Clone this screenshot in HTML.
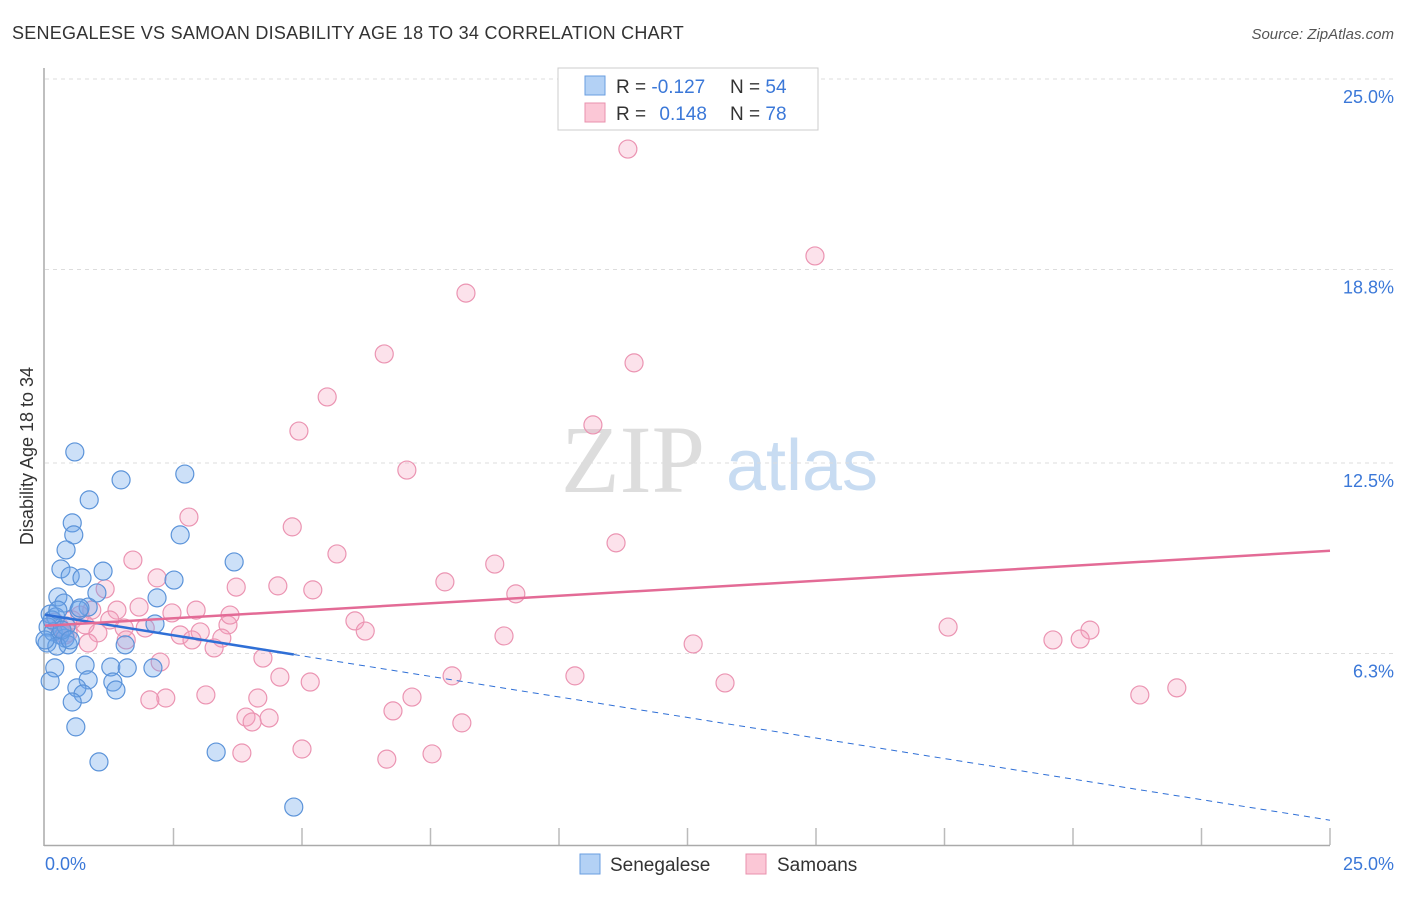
<!DOCTYPE html>
<html><head><meta charset="utf-8"><style>
body{margin:0;background:#fff;font-family:"Liberation Sans",sans-serif;}
</style></head><body>
<svg id="chart" width="1406" height="892" xmlns="http://www.w3.org/2000/svg">
<text x="12" y="39" font-size="18" fill="#333" letter-spacing="0.25">SENEGALESE VS SAMOAN DISABILITY AGE 18 TO 34 CORRELATION CHART</text>
<text x="1394" y="39" font-size="15" fill="#555" font-style="italic" text-anchor="end">Source: ZipAtlas.com</text>
<g>
<text x="633" y="492" font-size="96" font-family="Liberation Serif,serif" fill="#ddd" text-anchor="middle">ZIP</text>
<text x="802" y="490" font-size="72" fill="#c8dcf2" text-anchor="middle">atlas</text>
</g>
<g id="grid"></g>
<line x1="44" y1="68" x2="44" y2="846" stroke="#aaa" stroke-width="1.5"/>
<line x1="44" y1="845.5" x2="1330" y2="845.5" stroke="#aaa" stroke-width="1.5"/>
<text transform="translate(33,456) rotate(-90)" font-size="18" fill="#333" text-anchor="middle">Disability Age 18 to 34</text>
<text x="45" y="870" font-size="18" fill="#3b78d8">0.0%</text>
<text x="1394" y="870" font-size="18" fill="#3b78d8" text-anchor="end">25.0%</text>
<g id="marks"></g>
<g>
<rect x="558" y="68" width="260" height="62" fill="#fff" stroke="#ccc"/>
<rect x="585" y="76" width="20" height="19" fill="#b3d1f5" stroke="#6a9ee0"/>
<rect x="585" y="103" width="20" height="19" fill="#fbc7d6" stroke="#e891ad"/>
<text x="616" y="93" font-size="19" fill="#333">R = <tspan fill="#3b78d8">-0.127</tspan></text>
<text x="730" y="93" font-size="19" fill="#333">N = <tspan fill="#3b78d8">54</tspan></text>
<text x="616" y="120" font-size="19" fill="#333">R = <tspan fill="#3b78d8" dx="8">0.148</tspan></text>
<text x="730" y="120" font-size="19" fill="#333">N = <tspan fill="#3b78d8">78</tspan></text>
</g>
<g>
<rect x="580" y="854" width="20" height="20" fill="#b3d1f5" stroke="#6a9ee0"/>
<text x="610" y="871" font-size="19" fill="#333">Senegalese</text>
<rect x="746" y="854" width="20" height="20" fill="#fbc7d6" stroke="#e891ad"/>
<text x="777" y="871" font-size="19" fill="#333">Samoans</text>
</g>
</svg>
<script>
const yTicks=[25,18.8,12.5,6.3];
const yTickLabels=["25.0%","18.8%","12.5%","6.3%"];
const xTicks=[2.5,5,7.5,10,12.5,15,17.5,20,22.5,25];
const senX=[0.58,1.48,2.72,0.86,0.53,0.56,2.63,0.41,3.68,0.31,0.49,0.72,1.13,2.51,1.01,0.25,2.18,0.37,0.84,0.66,0.10,0.21,2.14,0.06,0.16,0.29,0.39,0.45,1.56,0.04,0.23,0.19,0.78,1.28,1.60,2.10,0.10,0.84,1.32,0.62,0.74,1.38,0.53,0.60,1.05,3.33,4.84,0.41,0.14,0.68,0.33,0.49,0.25,0.0];
const senY=[12.86,11.95,12.14,11.30,10.55,10.16,10.16,9.67,9.28,9.05,8.82,8.76,8.98,8.69,8.27,8.14,8.11,7.94,7.81,7.71,7.58,7.49,7.26,7.16,7.00,6.90,6.80,6.58,6.58,6.64,6.54,5.83,5.92,5.86,5.83,5.83,5.40,5.44,5.37,5.18,4.98,5.11,4.72,3.91,2.77,3.09,1.30,7.19,7.39,7.78,7.06,6.74,7.71,6.74];
const samX=[11.34,14.98,8.19,6.60,11.46,5.49,4.94,10.66,7.04,2.80,4.81,11.11,5.68,1.71,8.75,2.18,3.72,4.53,7.78,5.21,9.16,1.17,1.83,1.40,2.47,6.03,3.56,6.23,2.63,3.02,1.54,3.44,3.29,1.03,0.84,8.93,17.57,20.33,20.14,19.61,12.61,4.24,2.24,4.57,5.16,7.92,10.31,13.23,22.02,21.30,3.13,2.35,2.04,4.14,7.14,6.77,3.91,4.03,4.36,8.11,5.00,3.83,6.65,7.53,0.29,0.19,0.53,0.45,0.68,0.91,1.26,1.58,1.95,2.86,2.94,3.60,0.39,0.78];
const samY=[22.72,19.24,18.03,16.05,15.76,14.65,13.54,13.74,12.27,10.74,10.42,9.90,9.54,9.34,9.21,8.76,8.46,8.50,8.63,8.37,8.24,8.40,7.81,7.71,7.62,7.36,7.23,7.03,6.90,7.00,7.13,6.80,6.48,6.97,6.64,6.87,7.16,7.06,6.77,6.74,6.61,6.15,6.02,5.53,5.37,5.57,5.57,5.34,5.18,4.95,4.95,4.85,4.79,4.85,4.88,4.43,4.23,4.07,4.20,4.04,3.19,3.06,2.86,3.03,7.16,7.32,7.39,6.97,7.55,7.71,7.39,6.74,7.13,6.74,7.71,7.55,6.90,7.23];
const NS="http://www.w3.org/2000/svg";
const xS=v=>45+v*(1330-45)/25;
const yS=v=>847-v*30.72;
function mk(tag,attrs,parent){const e=document.createElementNS(NS,tag);for(const k in attrs)e.setAttribute(k,attrs[k]);parent.appendChild(e);return e;}
const grid=document.getElementById('grid'),marks=document.getElementById('marks'),svg=document.getElementById('chart');
yTicks.forEach((t,i)=>{
 const l=mk('line',{x1:45,x2:1394,y1:yS(t),y2:yS(t),stroke:'#ddd','stroke-dasharray':'4,4'},grid);
 
 
 const tx=mk('text',{x:1394,y:yS(t)+24,'font-size':18,fill:'#3b78d8','text-anchor':'end'},grid);
 tx.textContent=yTickLabels[i];
 
 
});
xTicks.forEach(t=>{
 const l=mk('line',{x1:xS(t),x2:xS(t),y1:828,y2:845,stroke:'#bbb','stroke-width':1.5},grid);
 
 
});
function dots(xs,ys,fill,stroke,name){xs.forEach((x,i)=>{
 const c=mk('circle',{cx:xS(x),cy:yS(ys[i]),r:9,fill:fill,stroke:stroke,'stroke-width':1.2},marks);
 
 
});}
dots(samX,samY,'rgba(246,160,190,0.3)','#eb94b2','samoans-point');
dots(senX,senY,'rgba(110,165,235,0.35)','#5b93d9','senegalese-point');
function fit(xs,ys){const n=xs.length;let mx=0,my=0;for(let i=0;i<n;i++){mx+=xs[i];my+=ys[i];}mx/=n;my/=n;let sxy=0,sxx=0;for(let i=0;i<n;i++){sxy+=(xs[i]-mx)*(ys[i]-my);sxx+=(xs[i]-mx)**2;}const b=sxy/sxx;return [my-b*mx,b];}
const [sa,sb]=fit(senX,senY);
const xmaxSen=Math.max(...senX);
let l1=mk('line',{x1:xS(0),y1:yS(sa),x2:xS(xmaxSen),y2:yS(sa+sb*xmaxSen),stroke:'#2f6fd6','stroke-width':2.5},marks);


let l2=mk('line',{x1:xS(xmaxSen),y1:yS(sa+sb*xmaxSen),x2:xS(25),y2:yS(sa+sb*25),stroke:'#2f6fd6','stroke-width':1,'stroke-dasharray':'6,5'},marks);


const [pa,pb]=fit(samX,samY);
let l3=mk('line',{x1:xS(0),y1:yS(pa),x2:xS(25),y2:yS(pa+pb*25),stroke:'#e36b96','stroke-width':2.5},marks);


</script>
</body></html>
